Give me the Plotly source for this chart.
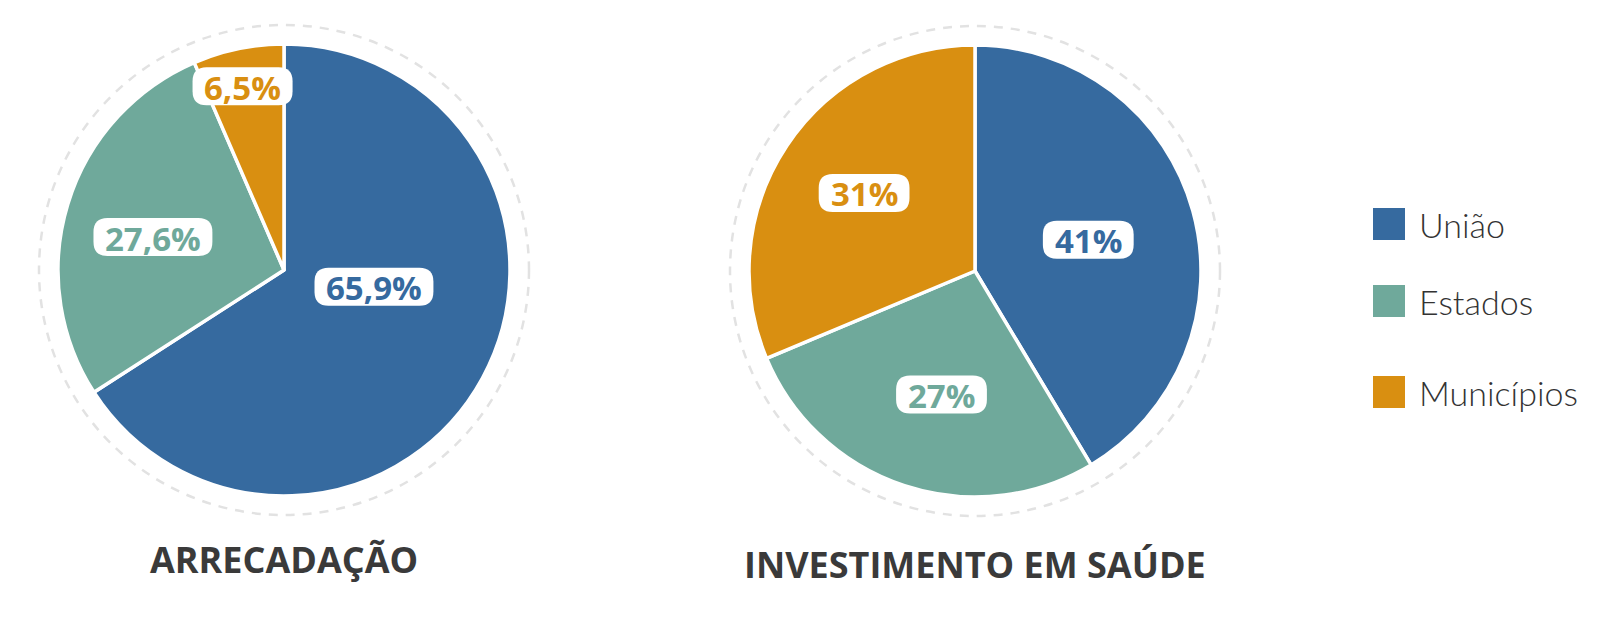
import math
import plotly.graph_objects as go

# ---------------- data ----------------
categories = ["União", "Estados", "Municípios"]
arrecadacao = [65.9, 27.6, 6.5]
saude = [41, 27, 31]
arrecadacao_labels = ["65,9%", "27,6%", "6,5%"]
saude_labels = ["41%", "27%", "31%"]
titles = ["ARRECADAÇÃO", "INVESTIMENTO EM SAÚDE"]

# ---------------- styles / layout ----------------
W, H = 1600, 642
OFF = 8  # default page (body) margin of the html page
colors = ["#366a9f", "#6fa99b", "#d98f11"]
pie_centers = [(284, 270), (975, 271)]   # page pixel coordinates
R = 226
ring_r = 245
title_y = [559, 564]
label_rfrac = [[0.405, 0.598, 0.834], [0.52, 0.566, 0.60]]
label_shift = [[-18, -2.8, -1], [0, -3, 1.5]]
label_font = dict(family="Open Sans, Lato, sans-serif", size=33, weight=700)
title_font = dict(family="Open Sans, sans-serif", size=36, color="#3a3a3a", weight=700)
legend_x = 1389
legend_text_x = 1417
legend_y = [224, 301, 392]
legend_font = dict(family="Lato, Open Sans, sans-serif", size=34, color="#333333", weight=300)

char_w = {",": 0.28, "%": 0.88}


def text_width(s, size):
    return sum(char_w.get(c, 0.572) for c in s) * size


fig = go.Figure()

# hidden axis whose units are page pixels
fig.update_xaxes(range=[OFF, W + OFF], visible=False, domain=[0, 1], fixedrange=True)
fig.update_yaxes(range=[H + OFF, OFF], visible=False, domain=[0, 1], fixedrange=True)

series = [arrecadacao, saude]
labels_all = [arrecadacao_labels, saude_labels]
shapes = []
annotations = []

for i, vals in enumerate(series):
    cx, cy = pie_centers[i]
    fig.add_trace(go.Pie(
        labels=categories, values=vals, sort=False, direction="clockwise",
        rotation=0, textinfo="none", hoverinfo="label+percent",
        marker=dict(colors=colors, line=dict(color="white", width=3.5)),
        domain=dict(x=[(cx - OFF - R) / W, (cx - OFF + R) / W],
                    y=[1 - (cy - OFF + R) / H, 1 - (cy - OFF - R) / H]),
        showlegend=False,
    ))
    shapes.append(dict(type="circle", xref="x", yref="y",
                       x0=cx - ring_r, x1=cx + ring_r, y0=cy - ring_r, y1=cy + ring_r,
                       line=dict(color="#e2e2e2", width=2.5, dash="9px,8px"),
                       layer="below"))
    total = sum(vals)
    cum = 0.0
    for j, v in enumerate(vals):
        frac = v / total
        mid = (cum + frac / 2) * 360 + label_shift[i][j]
        cum += frac
        r = label_rfrac[i][j] * R
        lx = cx + r * math.sin(math.radians(mid))
        ly = cy - r * math.cos(math.radians(mid))
        txt = labels_all[i][j]
        bw = text_width(txt, label_font["size"]) + 24
        bh = 38
        x0, x1 = lx - bw / 2, lx + bw / 2
        y0, y1 = ly - bh / 2, ly + bh / 2
        rr = 14
        path = (f"M{x0+rr},{y0} L{x1-rr},{y0} Q{x1},{y0} {x1},{y0+rr} "
                f"L{x1},{y1-rr} Q{x1},{y1} {x1-rr},{y1} L{x0+rr},{y1} "
                f"Q{x0},{y1} {x0},{y1-rr} L{x0},{y0+rr} Q{x0},{y0} {x0+rr},{y0} Z")
        shapes.append(dict(type="path", xref="x", yref="y", path=path,
                           fillcolor="white", line=dict(width=0), layer="above"))
        annotations.append(dict(x=lx, y=ly + 1, xref="x", yref="y", text=txt,
                                showarrow=False, xanchor="center", yanchor="middle",
                                font=dict(color=colors[j], **label_font)))
    annotations.append(dict(x=cx, y=title_y[i], xref="x", yref="y", text=titles[i],
                            showarrow=False, xanchor="center", yanchor="middle",
                            font=title_font))

# legend: squares from the library's markers, names as text
fig.add_trace(go.Scatter(
    x=[legend_x] * len(categories), y=legend_y, mode="markers",
    marker=dict(symbol="square", size=32, color=colors, line=dict(width=0)),
    hoverinfo="skip", showlegend=False, cliponaxis=False,
))
for name, ly in zip(categories, legend_y):
    annotations.append(dict(x=legend_text_x, y=ly, xref="x", yref="y", text=name,
                            showarrow=False, xanchor="left", yanchor="middle",
                            font=legend_font))

fig.update_layout(
    width=W, height=H, margin=dict(l=0, r=0, t=0, b=0),
    paper_bgcolor="white", plot_bgcolor="white",
    shapes=shapes, annotations=annotations, showlegend=False,
)

fig.write_html("out.html")
